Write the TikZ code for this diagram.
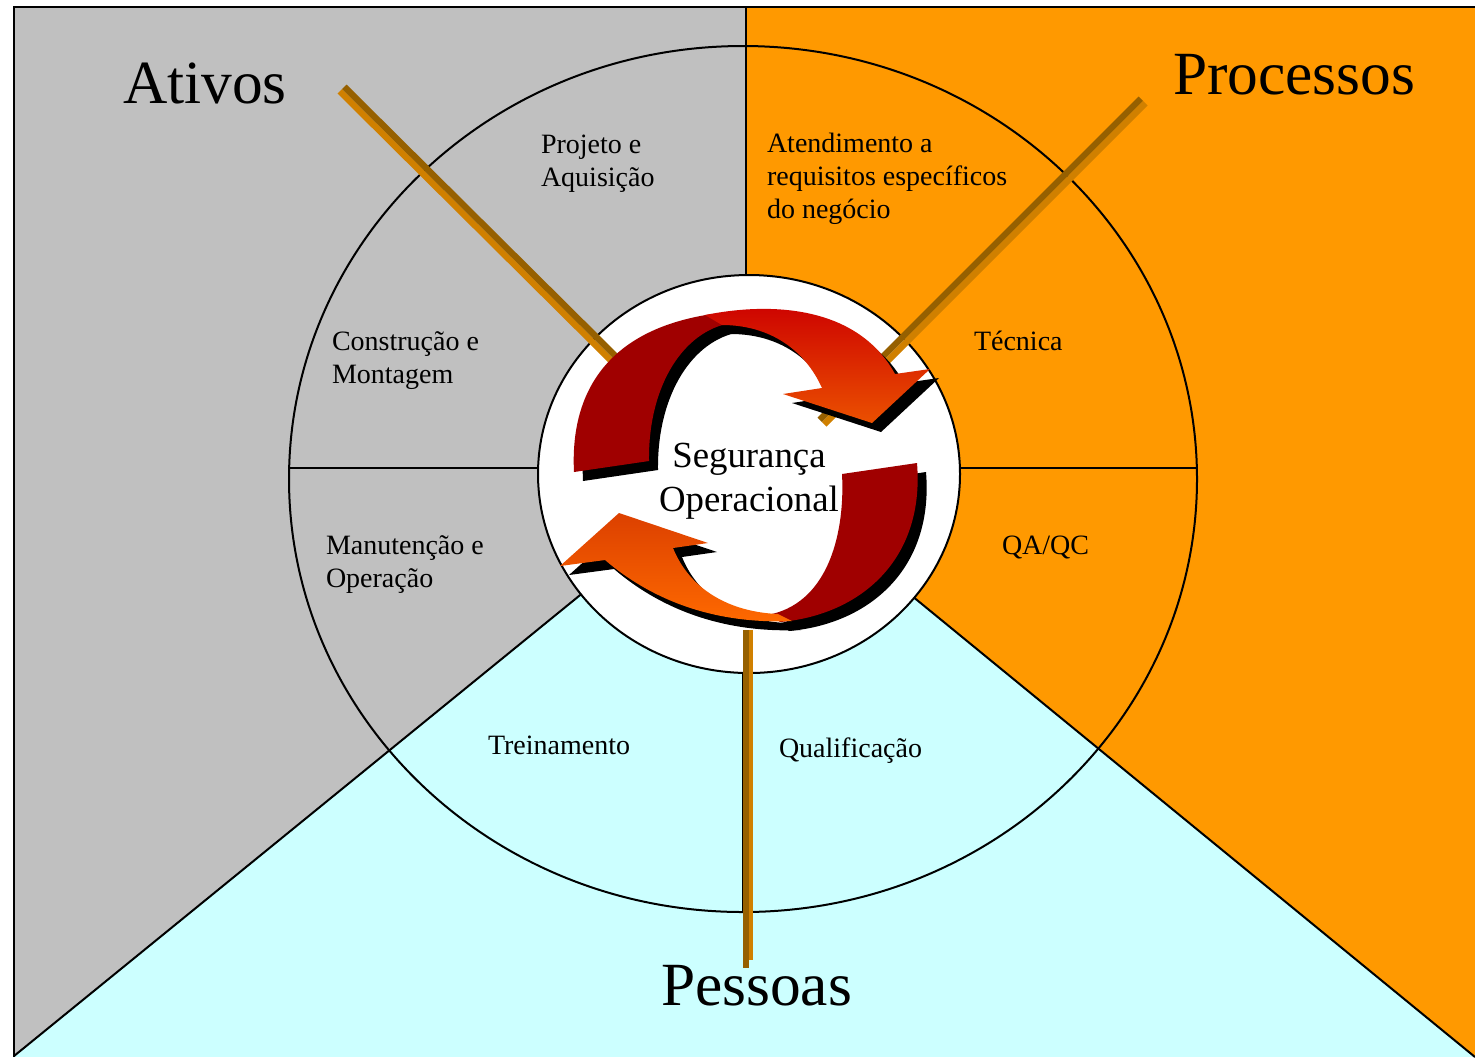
\documentclass[tikz,border=0pt]{standalone}
\usepackage{fontspec}
\setmainfont{Liberation Serif}
\usepackage{tikz}
\definecolor{ativosgray}{HTML}{C0C0C0}
\definecolor{processosorange}{HTML}{FF9900}
\definecolor{pessoascyan}{HTML}{CCFFFF}
\definecolor{setadark}{HTML}{A00000}
\definecolor{rodlight}{HTML}{D08000}
\definecolor{roddark}{HTML}{966000}
\tikzset{font=\fontsize{14}{16.5}\selectfont}
\tikzset{setor/.style={anchor=base west,inner sep=0pt,align=left},
  grupo/.style={anchor=base west,inner sep=0pt,font=\fontsize{30.7}{36}\selectfont},
  centro/.style={anchor=base,inner sep=0pt,align=center,font=\fontsize{18.4}{22}\selectfont}}

\begin{document}
\begin{tikzpicture}[x=0.5pt,y=-0.5pt,line width=1pt]
  \useasboundingbox (0,0) rectangle (1475,1057);
  \pgfmathsetmacro{\sx}{9}
  \pgfmathsetmacro{\sy}{9}
  \def\cicloA{(574,472) .. controls (570,395) and (605,330) .. (712,314) -- (726,324)
    .. controls (680,335) and (648,390) .. (649,461) -- cycle}
  \def\cicloB{(705,315) .. controls (780,300) and (860,310) .. (895,374) -- (930,369)
    -- (872,423) -- (783,394) -- (822,388) .. controls (805,350) and (770,325) .. (722,325) -- cycle}
  \def\cicloC{(917,463) .. controls (925,560) and (860,615) .. (780,622) -- (772,614)
    .. controls (830,600) and (845,530) .. (842,474) -- cycle}
  \def\cicloD{(792,621) .. controls (700,625) and (640,590) .. (605,560) -- (560,566)
    -- (619,513) -- (708,543) -- (673,548) .. controls (690,590) and (730,612) .. (778,614) -- cycle}
  % areas
  \fill[pessoascyan] (14,7) rectangle (1475,1057);
  \fill[ativosgray] (14,7) -- (746,7) -- (746,460) -- (14,1056) -- cycle;
  \fill[processosorange] (746,7) -- (1475,7) -- (1475,1057) -- (746,460) -- cycle;
  \draw (14,1057) -- (14,7) -- (1475,7);
  \draw (746,7) -- (746,460);
  \draw (14,1056) -- (746,460) -- (1475,1057);
  \draw (289,468) -- (1197,468);
  \draw (743,468) -- (743,913);
  \draw (743,479) circle [x radius=454, y radius=433];
  \draw[fill=white] (749,474) circle [x radius=211, y radius=199];
  % rods
  \fill[rodlight] (337.5,93.5) -- (342,89) -- (613,358) -- (608.5,362.5) -- cycle;
  \fill[roddark] (342,89) -- (346.5,84.5) -- (617.5,353.5) -- (613,358) -- cycle;
  \fill[roddark] (1138.5,96.5) -- (1143,101) -- (822,422) -- (817.5,417.5) -- cycle;
  \fill[rodlight] (1143,101) -- (1147.5,105.5) -- (826.5,426.5) -- (822,422) -- cycle;
  \fill[roddark] (743,630) rectangle (749,968);
  \fill[rodlight] (749,630) rectangle (752.5,960);
  % arrows
  \begin{scope}[shift={(\sx,\sy)}]
    \fill[black] \cicloA;
    \fill[black] \cicloB;
    \fill[black] \cicloC;
    \fill[black] \cicloD;
  \end{scope}
  \fill[setadark] \cicloA;
  \shade[top color=red!80!black,bottom color={rgb,255:red,235;green,80;blue,0}] \cicloB;
  \fill[setadark] \cicloC;
  \shade[top color={rgb,255:red,220;green,64;blue,0},bottom color={rgb,255:red,255;green,106;blue,0}] \cicloD;
  % texts
  \node[grupo] (ativos) at (122,103) {Ativos};
  \node[grupo] (processos) at (1172,94) {Processos};
  \node[grupo] (pessoas) at (660,1005) {Pessoas};
  \node[centro] (seguranca) at (749,511) {Segurança\\Operacional};
  \node[setor] (projeto) at (540,186) {Projeto e\\Aquisição};
  \node[setor] (atendimento) at (766,218) {Atendimento a\\requisitos específicos\\do negócio};
  \node[setor] (construcao) at (331,383) {Construção e\\Montagem};
  \node[setor] (tecnica) at (973,350) {Técnica};
  \node[setor] (manutencao) at (325,587) {Manutenção e\\Operação};
  \node[setor] (qaqc) at (1001,554) {QA/QC};
  \node[setor] (treinamento) at (487,754) {Treinamento};
  \node[setor] (qualificacao) at (778,757) {Qualificação};
\end{tikzpicture}
\end{document}
